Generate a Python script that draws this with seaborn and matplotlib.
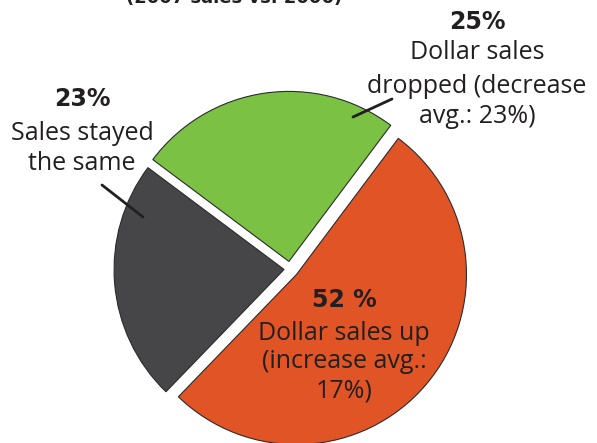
import matplotlib
matplotlib.use("Agg")
import matplotlib.pyplot as plt
import seaborn as sns

# data
labels = ["Dollar sales dropped", "Sales stayed the same", "Dollar sales up"]
shares = [25, 23, 52]
colors = ["#7BC144", "#464648", "#E05426"]
explode = [0.045, 0.035, 0.05]

pct_labels = ["25%", "23%", "52 %"]
captions = [
    ["Dollar sales", "dropped (decrease", "avg.: 23%)"],
    ["Sales stayed", "the same"],
    ["Dollar sales up", "(increase avg.:", "17%)"],
]

sns.set_style("white")
plt.rcParams["font.family"] = ["Open Sans", "DejaVu Sans"]

W, H = 597, 443
R = 170.0          # pixels per data unit (pie radius)
CX, CY = 290, 269  # pie centre in pixels from top-left

fig = plt.figure(figsize=(W / 100, H / 100), dpi=100)
ax = fig.add_axes([0, 0, 1, 1])

ax.pie(shares, colors=colors, explode=explode, startangle=53.2,
       counterclock=True,
       wedgeprops=dict(edgecolor="#2b2b2b", linewidth=0.8))
ax.set_xlim(-CX / R, (W - CX) / R)
ax.set_ylim(-(H - CY) / R, CY / R)
ax.set_aspect("equal")
ax.axis("off")


def px(x, y):
    return (x - CX) / R, (CY - y) / R


txt = "#231f20"
bold = ["DejaVu Sans"]

# title, mostly cropped at the top edge as in the original
fig.text(234 / W, 1 - 3 / H, "(2007 sales vs. 2006)", ha="center",
         va="baseline", fontsize=13, fontweight="bold", color=txt,
         family=bold)

blocks = [
    (477, [29, 59, 93, 123]),
    (82, [106, 140, 170]),
    (344, [307, 340, 368, 398]),
]
for (cx, ys), pct, cap in zip(blocks, pct_labels, captions):
    ax.text(*px(cx, ys[0]), pct, ha="center", va="baseline", fontsize=17,
            fontweight="bold", color=txt, family=bold)
    for line, y in zip(cap, ys[1:]):
        ax.text(*px(cx, y), line, ha="center", va="baseline", fontsize=18,
                color=txt)

# leader lines
for (x0, y0), (x1, y1) in [((102, 185), (143, 217)), ((353, 117), (392, 99))]:
    a, b = px(x0, y0)
    c, d = px(x1, y1)
    ax.plot([a, c], [b, d], color=txt, linewidth=2)

fig.savefig("out.png", dpi=100)
